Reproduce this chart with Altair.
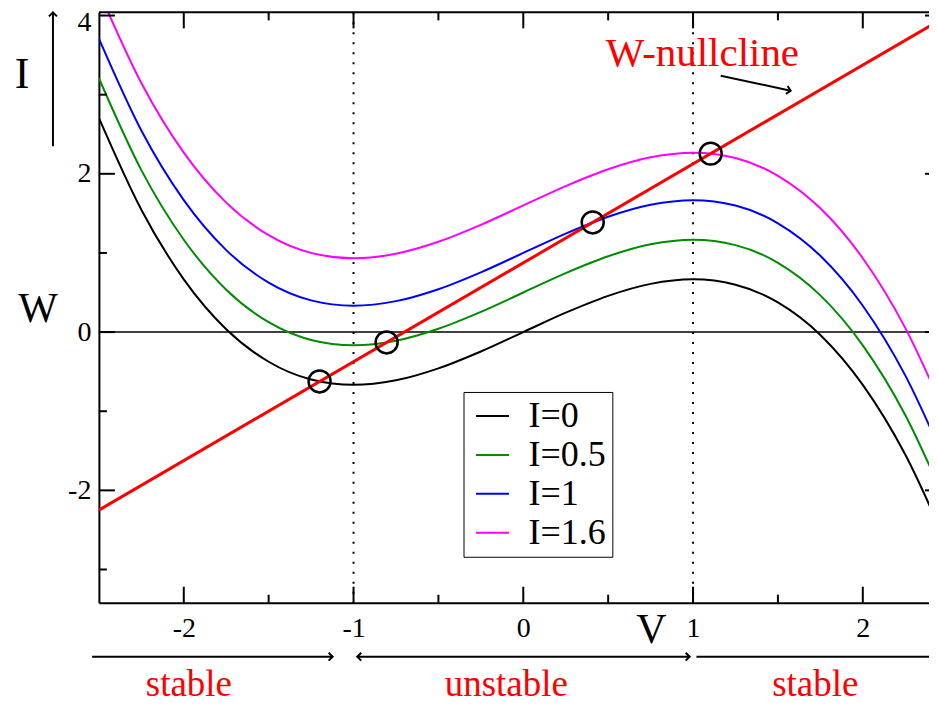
import altair as alt
import pandas as pd

# ---------------- data ----------------
V = [-2.5, -2.25, -2.0, -1.75, -1.5, -1.25, -1.0, -0.75, -0.5, -0.25, 0.0,
     0.25, 0.5, 0.75, 1.0, 1.25, 1.5, 1.75, 2.0, 2.25, 2.5]
W_I0 = [2.708, 1.547, 0.667, 0.036, -0.375, -0.599, -0.667, -0.609, -0.458, -0.245, 0.0,
        0.245, 0.458, 0.609, 0.667, 0.599, 0.375, -0.036, -0.667, -1.547, -2.708]
W_I05 = [3.208, 2.047, 1.167, 0.536, 0.125, -0.099, -0.167, -0.109, 0.042, 0.255, 0.5,
         0.745, 0.958, 1.109, 1.167, 1.099, 0.875, 0.464, -0.167, -1.047, -2.208]
W_I1 = [3.708, 2.547, 1.667, 1.036, 0.625, 0.401, 0.333, 0.391, 0.542, 0.755, 1.0,
        1.245, 1.458, 1.609, 1.667, 1.599, 1.375, 0.964, 0.333, -0.547, -1.708]
W_I16 = [4.308, 3.147, 2.267, 1.636, 1.225, 1.001, 0.933, 0.991, 1.142, 1.355, 1.6,
         1.845, 2.058, 2.209, 2.267, 2.199, 1.975, 1.564, 0.933, 0.053, -1.108]
labels = ["I=0", "I=0.5", "I=1", "I=1.6"]
colors = ["#000000", "#008c00", "#0000ff", "#ff00ff"]

null_V = [-2.5, 2.5]
null_W = [-2.25, 4.0]

fixed_V = [-1.2, -0.805, 0.409, 1.104]
fixed_W = [-0.624, -0.131, 1.386, 2.255]

boundary_V = [-1, 1]

x_major = [-2, -1, 0, 1, 2]
x_minor = [-1.5, -0.5, 0.5, 1.5]
y_major = [-2, 0, 2, 4]
y_minor = [-3, -1, 1, 3]

region_labels = ["stable", "unstable", "stable"]
region_V = [-1.97, -0.1, 1.72]
arrow_start = [-2.54, -0.978, 1.02]
arrow_end = [-1.123, 0.98, 2.45]
head_right_V = [-1.123, 0.98]
head_left_V = [-0.978]

nc_label_V = [0.486]
nc_label_W = [3.366]
nc_arrow_V = [1.163]
nc_arrow_V2 = [1.575]
nc_arrow_W = [3.24]
nc_arrow_W2 = [3.05]

# ---------------- layout constants ----------------
PW, PH = 831, 591
FONT = "Liberation Serif, Times New Roman, Times, serif"
CHEVRON = "M-1,-1L0,0L-1,1"

xs = alt.Scale(domain=[-2.5, 2.39], nice=False, zero=False)
ys = alt.Scale(domain=[-3.42, 4.04], nice=False, zero=False)

AX = alt.Axis(values=x_major, title=None, grid=False, ticks=False, domain=True,
              domainColor="black", domainWidth=2, labelFont=FONT, labelFontSize=28,
              labelPadding=12, labelColor="black", labelExpr="toString(datum.value)")
AY = alt.Axis(values=y_major, title=None, grid=False, ticks=False, domain=True,
              domainColor="black", domainWidth=2, labelFont=FONT, labelFontSize=28,
              labelPadding=8, labelColor="black", labelExpr="toString(datum.value)",
              labelFlush=4, labelFlushOffset=7)

rows = []
for lab, ws in zip(labels, [W_I0, W_I05, W_I1, W_I16]):
    for v, w in zip(V, ws):
        rows.append({"V": v, "W": w, "label": lab})
curves_df = pd.DataFrame(rows)

one = pd.DataFrame({"_": [0]})

def X(field="V"):
    return alt.X(f"{field}:Q", scale=xs, axis=AX, title=None)

def Y(field="W"):
    return alt.Y(f"{field}:Q", scale=ys, axis=AY, title=None)

curves = alt.Chart(curves_df).mark_line(clip=True, strokeWidth=2, interpolate="monotone").encode(
    x=X(), y=Y(),
    color=alt.Color("label:N", scale=alt.Scale(domain=labels, range=colors),
                    legend=alt.Legend(title=None, orient="none", legendX=365, legendY=380,
                                      direction="vertical", symbolType="stroke",
                                      symbolSize=1089, symbolStrokeWidth=2, symbolOffset=5,
                                      labelFont=FONT, labelFontSize=36, labelOffset=18,
                                      padding=6, strokeColor="black", fillColor="white",
                                      rowPadding=3, labelColor="black")),
)

nullcline = alt.Chart(pd.DataFrame({"V": null_V, "W": null_W})).mark_line(
    clip=True, color="#ff0000", strokeWidth=3).encode(x=X(), y=Y())

zero_line = alt.Chart(pd.DataFrame({"W": [0]})).mark_rule(
    color="black", strokeWidth=1.5).encode(y=Y())

dotted = alt.Chart(pd.DataFrame({"V": boundary_V})).mark_rule(
    color="black", strokeWidth=2, strokeDash=[2, 8]).encode(x=X())

circles = alt.Chart(pd.DataFrame({"V": fixed_V, "W": fixed_W})).mark_point(
    shape="circle", filled=False, size=484, strokeWidth=2.5, color="black", opacity=1
).encode(x=X(), y=Y())

def tick_x(vals, y0, y1):
    return alt.Chart(pd.DataFrame({"V": vals})).mark_rule(color="black", strokeWidth=2).encode(
        x=X(), y=alt.value(y0), y2=alt.value(y1))
def tick_y(vals, x0, x1):
    return alt.Chart(pd.DataFrame({"W": vals})).mark_rule(color="black", strokeWidth=2).encode(
        y=Y(), x=alt.value(x0), x2=alt.value(x1))

tick_layers = [
    tick_x(x_major, PH, PH - 16), tick_x(x_minor, PH, PH - 8),
    tick_x(x_major, 0, 16), tick_x(x_minor, 0, 8),
    tick_y(y_major, 0, 16), tick_y(y_minor, 0, 8),
    tick_y(y_major, PW - 4, PW),
]

top_frame = alt.Chart(one).mark_rule(color="black", strokeWidth=2).encode(
    x=alt.value(0), x2=alt.value(PW), y=alt.value(0))

# W-nullcline annotation
nc_text = alt.Chart(pd.DataFrame({"V": nc_label_V, "W": nc_label_W, "t": ["W-nullcline"]})).mark_text(
    font=FONT, fontSize=41, color="#ff0000", align="left", baseline="alphabetic").encode(
    x=X(), y=Y(), text="t:N")
nc_arrow = alt.Chart(pd.DataFrame({"V": nc_arrow_V, "V2": nc_arrow_V2, "W": nc_arrow_W, "W2": nc_arrow_W2})).mark_rule(
    color="black", strokeWidth=2).encode(x=X(), x2="V2:Q", y=Y(), y2="W2:Q")
nc_head = alt.Chart(pd.DataFrame({"V": nc_arrow_V2, "W": nc_arrow_W2})).mark_point(
    shape=CHEVRON, filled=False, size=64, strokeWidth=2, color="black", opacity=1, angle=12
).encode(x=X(), y=Y())

# axis letters
def label_px(txt, x, y, size):
    return alt.Chart(pd.DataFrame({"t": [txt]})).mark_text(
        font=FONT, fontSize=size, color="black", align="center", baseline="alphabetic").encode(
        x=alt.value(x), y=alt.value(y), text="t:N")

v_label = label_px("V", 553, 631, 42)
w_label = label_px("W", -61, 310, 42)
i_label = label_px("I", -77, 76, 44)
i_arrow = alt.Chart(one).mark_rule(color="black", strokeWidth=2).encode(
    x=alt.value(-46), y=alt.value(134), y2=alt.value(1))
i_head = alt.Chart(one).mark_point(
    shape=CHEVRON, filled=False, size=64, strokeWidth=2, color="black", opacity=1, angle=270
).encode(x=alt.value(-46), y=alt.value(0))

# stability regions below the axis
region_arrows = alt.Chart(pd.DataFrame({"V": arrow_start, "V2": arrow_end})).mark_rule(
    color="black", strokeWidth=2).encode(x=X(), x2="V2:Q", y=alt.value(645))
heads_r = alt.Chart(pd.DataFrame({"V": head_right_V})).mark_point(
    shape=CHEVRON, filled=False, size=64, strokeWidth=2, color="black", opacity=1
).encode(x=X(), y=alt.value(645))
heads_l = alt.Chart(pd.DataFrame({"V": head_left_V})).mark_point(
    shape=CHEVRON, filled=False, size=64, strokeWidth=2, color="black", opacity=1, angle=180
).encode(x=X(), y=alt.value(645))
region_text = alt.Chart(pd.DataFrame({"V": region_V, "t": region_labels})).mark_text(
    font=FONT, fontSize=37, color="#ff0000", align="center", baseline="alphabetic").encode(
    x=X(), y=alt.value(684), text="t:N")

chart = alt.layer(
    zero_line, dotted, curves, nullcline, circles, *tick_layers, top_frame,
    nc_text, nc_arrow, nc_head, v_label, w_label, i_label, i_arrow, i_head,
    region_arrows, heads_r, heads_l, region_text,
).properties(
    width=PW, height=PH,
    padding={"left": 91, "top": 4, "right": 0, "bottom": 100},
    autosize=alt.AutoSizeParams(type="none"),
    background="white",
).configure_view(stroke=None)

chart.save("out.html", embed_options={"renderer": "svg", "actions": False})
